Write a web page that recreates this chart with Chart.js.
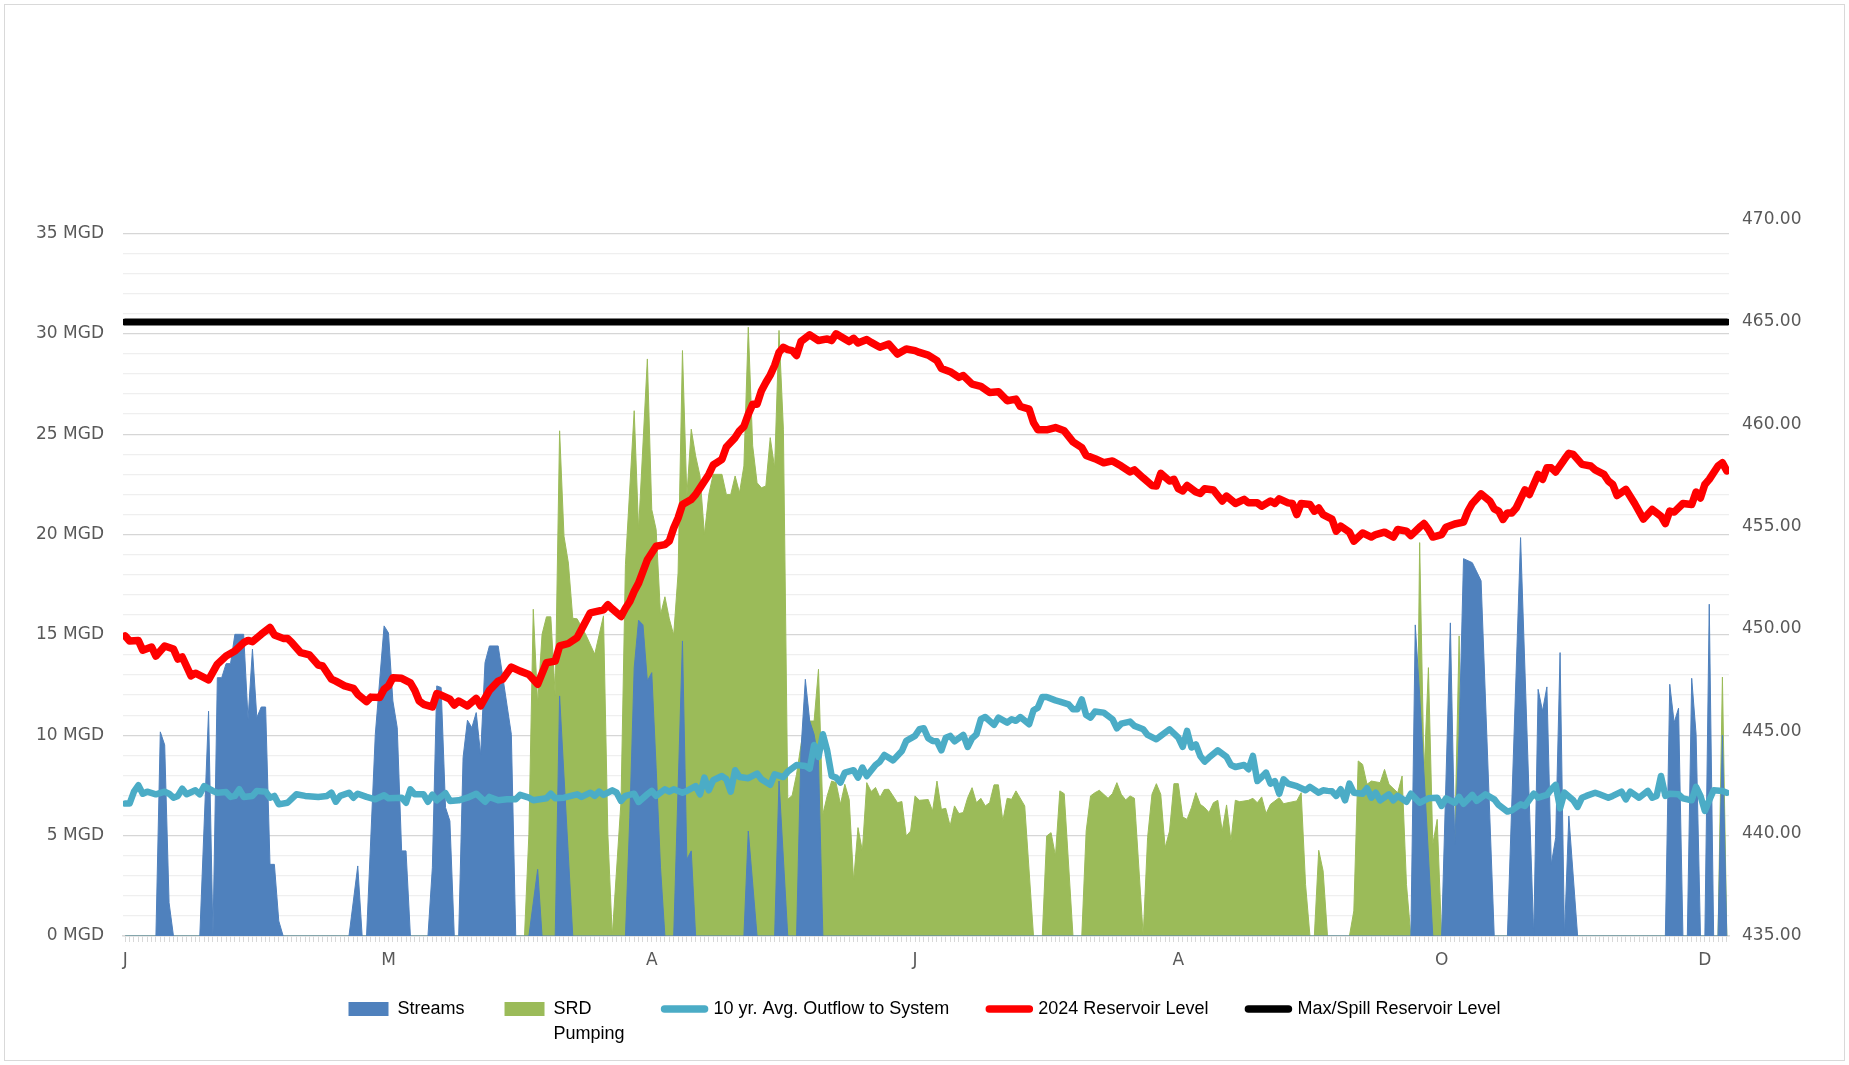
<!DOCTYPE html>
<html>
<head>
<meta charset="utf-8">
<script src="https://cdn.jsdelivr.net/npm/chart.js@4"></script>
<style>
  html, body { margin: 0; padding: 0; background: #fff; }
  canvas { display: block; }
</style>
</head>
<body>
<canvas id="graficoEmbalse" width="1849" height="1065"></canvas>
<script>
//* eje x: día del año (0 = 1 de enero de 2024), una etiqueta cada 60 días
const diasEtiqueta = [0, 60, 120, 180, 240, 300, 360];
const letrasMes = ['J', 'M', 'A', 'J', 'A', 'O', 'D'];
const ticksNivel = [435, 440, 445, 450, 455, 460, 465, 470];

//* Streams (MGD)
const diasArroyos = [
  0, 7, 8, 9, 10, 11, 17, 19, 20, 21,
  22, 23, 24, 25, 27, 28, 29, 30, 31, 32,
  33, 34, 35, 36, 51, 53, 54, 55, 57, 59,
  60, 61, 62, 63, 64, 65, 69, 70, 71, 72,
  73, 74, 75, 76, 77, 78, 79, 80, 81, 82,
  83, 85, 88, 89, 92, 94, 95, 98, 99, 102,
  114, 115, 116, 117, 118, 119, 120, 121, 122, 123,
  125, 127, 128, 129, 130, 141, 142, 144, 148, 149,
  151, 153, 154, 155, 156, 157, 158, 159, 293, 294,
  295, 296, 298, 300, 302, 303, 304, 305, 307, 309,
  312, 315, 318, 321, 322, 323, 324, 325, 326, 327,
  328, 329, 331, 351, 352, 353, 354, 355, 356, 357,
  358, 359, 360, 361, 362, 363, 364, 365
];
const arroyosMgd = [
  0, 0, 10.17, 9.52, 1.66, 0, 0, 11.2, 0, 12.87,
  12.87, 13.57, 13.57, 15.03, 15.03, 10.8, 14.29, 10.88, 11.41, 11.41,
  3.57, 3.57, 0.75, 0, 0, 3.49, 0, 0, 10.05, 15.45,
  15.1, 11.71, 10.38, 4.24, 4.24, 0, 0, 3.4, 12.46, 12.38,
  6.4, 5.73, 0, 0, 8.89, 10.75, 10.38, 11.13, 9.02, 13.62,
  14.45, 14.45, 10.05, 0, 0, 3.32, 0, 0, 11.96, 0,
  0, 5.9, 13.37, 15.73, 15.5, 12.71, 13.12, 8.39, 3.4, 0,
  0, 14.7, 3.82, 4.24, 0, 0, 5.23, 0, 0, 7.72,
  0, 0, 9.22, 12.79, 10.71, 10.05, 8.72, 0, 0, 15.5,
  12, 8.06, 0, 0, 15.6, 4.57, 10, 18.8, 18.6, 17.7,
  0, 0, 19.85, 0, 12.29, 11.21, 12.41, 3.57, 4.9, 14.12,
  0, 5.98, 0, 0, 12.54, 10.63, 11.35, 0, 0, 12.84,
  10.05, 0, 0, 16.53, 0, 0, 10, 0
];

//* SRD Pumping (MGD)
const diasBombeo = [
  0, 91, 92, 93, 94, 95, 96, 97, 98, 99,
  100, 101, 102, 103, 104, 105, 107, 109, 110, 111,
  113, 114, 116, 117, 119, 120, 121, 122, 123, 124,
  125, 126, 127, 128, 129, 130, 131, 132, 133, 134,
  136, 137, 138, 139, 140, 141, 142, 143, 144, 145,
  146, 147, 148, 149, 150, 151, 152, 153, 154, 155,
  156, 157, 158, 159, 160, 161, 162, 163, 164, 165,
  166, 167, 168, 169, 170, 171, 172, 173, 174, 176,
  177, 178, 179, 180, 181, 183, 184, 185, 186, 187,
  188, 189, 190, 191, 192, 193, 194, 195, 196, 197,
  198, 199, 200, 201, 202, 203, 205, 207, 209, 210,
  211, 212, 213, 214, 216, 218, 219, 220, 221, 222,
  223, 224, 225, 226, 227, 228, 229, 230, 232, 233,
  234, 235, 236, 237, 238, 239, 240, 241, 242, 243,
  244, 245, 246, 247, 248, 249, 250, 251, 252, 253,
  254, 256, 257, 258, 259, 260, 261, 263, 264, 265,
  267, 268, 269, 270, 271, 272, 273, 274, 279, 280,
  281, 282, 283, 284, 286, 287, 288, 290, 291, 292,
  293, 294, 295, 296, 297, 298, 299, 300, 302, 303,
  304, 305, 363, 364, 365
];
const bombeoMgd = [
  0, 0, 5.07, 16.28, 11.55, 15.03, 15.9, 15.9, 12, 25.17,
  19.92, 18.58, 15.83, 15.8, 15.4, 15.0, 14.04, 15.95, 5.07, 0,
  6.73, 18.5, 26.17, 20.25, 28.75, 21.25, 20.25, 16.0, 16.9, 15.8,
  15.0, 18.08, 29.17, 21.92, 25.25, 23.92, 22.92, 20.0, 22.0, 23.0,
  23.0, 22.0, 22.0, 22.92, 22.08, 23.42, 30.33, 24.42, 22.58, 22.33,
  22.42, 24.83, 23.33, 30.17, 25.25, 6.81, 7.0, 8.06, 9.5, 10.88,
  10.71, 10.71, 13.29, 6.06, 7.0, 7.72, 7.64, 6.56, 7.56, 6.8,
  2.74, 5.4, 4.24, 7.64, 7.2, 7.4, 6.9, 7.3, 7.31, 6.64,
  6.7, 4.98, 5.23, 6.98, 6.76, 6.8, 6.23, 7.72, 6.31, 6.36,
  5.48, 6.48, 6.1, 6.15, 6.89, 7.39, 6.64, 6.86, 6.48, 6.64,
  7.53, 7.53, 5.73, 6.86, 6.81, 7.23, 6.48, 0, 0, 4.98,
  5.15, 3.99, 7.23, 7.09, 0, 0, 5.23, 6.98, 7.14, 7.26,
  7.06, 6.86, 7.1, 7.64, 7.06, 6.78, 6.98, 6.86, 0, 4.9,
  7.06, 7.59, 7.06, 4.4, 5.23, 7.59, 7.59, 5.93, 5.81, 6.4,
  7.14, 6.56, 6.4, 6.15, 6.64, 6.76, 5.23, 6.53, 4.73, 6.76,
  6.69, 6.76, 6.86, 6.64, 6.93, 6.1, 6.56, 6.89, 6.59, 6.64,
  6.73, 7.14, 2.57, 0, 0, 4.27, 3.24, 0, 0, 1.25,
  8.72, 8.55, 7.56, 7.72, 7.64, 8.3, 7.56, 7.14, 7.97, 2.57,
  0, 0, 19.6, 8.06, 13.37, 4.57, 5.81, 0, 0, 4.73,
  14.95, 0, 0, 12.9, 0
];

//* 10 yr. Avg. Outflow to System (MGD)
const diasSalida = [
  0, 1, 2, 3, 4, 5, 7, 9, 10, 11,
  12, 13, 14, 16, 17, 18, 20, 21, 23, 24,
  25, 26, 27, 29, 30, 32, 33, 34, 35, 37,
  39, 41, 44, 46, 47, 48, 49, 51, 52, 53,
  55, 57, 59, 60, 63, 64, 65, 66, 68, 69,
  70, 71, 73, 74, 76, 78, 80, 82, 83, 85,
  87, 89, 90, 92, 93, 96, 97, 98, 100, 103,
  104, 106, 107, 108, 109, 111, 112, 113, 114, 116,
  117, 119, 120, 121, 123, 124, 125, 127, 128, 130,
  131, 132, 133, 134, 136, 137, 138, 139, 140, 142,
  144, 145, 147, 148, 150, 151, 153, 155, 156, 157,
  158, 159, 160, 161, 162, 163, 164, 166, 167, 168,
  169, 171, 172, 173, 175, 177, 178, 180, 181, 182,
  183, 184, 185, 186, 187, 188, 189, 191, 192, 193,
  194, 195, 196, 198, 199, 201, 202, 203, 204, 206,
  207, 208, 209, 210, 212, 213, 215, 216, 217, 218,
  219, 220, 221, 223, 225, 226, 227, 229, 230, 232,
  233, 235, 236, 238, 240, 241, 242, 243, 244, 245,
  246, 247, 249, 251, 252, 253, 255, 256, 257, 258,
  259, 260, 261, 262, 263, 264, 265, 267, 269, 270,
  272, 273, 274, 275, 276, 277, 278, 279, 280, 282,
  283, 284, 285, 286, 288, 289, 290, 292, 293, 295,
  297, 299, 300, 301, 303, 304, 305, 307, 308, 310,
  312, 313, 315, 316, 318, 319, 321, 322, 324, 325,
  326, 327, 328, 330, 331, 332, 333, 335, 336, 338,
  339, 341, 342, 343, 345, 347, 348, 349, 350, 351,
  352, 354, 355, 357, 358, 359, 360, 361, 362, 364,
  365
];
const salidaMgd = [
  6.6, 6.6, 7.19, 7.51, 7.09, 7.19, 7.06, 7.19, 7.09, 6.89,
  6.98, 7.34, 7.06, 7.26, 7.06, 7.47, 7.23, 7.14, 7.17, 6.93,
  6.98, 7.31, 6.93, 6.98, 7.23, 7.19, 6.89, 6.98, 6.56, 6.64,
  7.06, 6.98, 6.93, 6.98, 7.14, 6.69, 6.98, 7.14, 6.89, 7.09,
  6.93, 6.81, 7.01, 6.86, 6.89, 6.64, 7.31, 7.06, 7.06, 6.69,
  7.04, 6.76, 7.11, 6.73, 6.76, 6.89, 7.09, 6.69, 6.93, 6.76,
  6.81, 6.81, 7.03, 6.89, 6.76, 6.86, 7.09, 6.86, 6.89, 7.06,
  6.93, 7.14, 6.98, 7.19, 7.03, 7.26, 7.14, 6.73, 6.98, 7.09,
  6.68, 7.06, 7.23, 6.98, 7.31, 7.19, 7.31, 7.14, 7.23, 7.47,
  7.06, 7.89, 7.26, 7.76, 7.97, 7.81, 7.19, 8.26, 7.92, 7.86,
  8.09, 7.81, 7.53, 8.06, 7.92, 8.19, 8.52, 8.47, 8.34, 9.52,
  8.92, 10.05, 9.22, 7.97, 7.89, 7.64, 8.14, 8.26, 7.89, 8.39,
  7.97, 8.52, 8.69, 9.02, 8.75, 9.22, 9.72, 9.97, 10.3, 10.35,
  9.85, 9.72, 9.7, 9.25, 9.88, 9.97, 9.7, 10.02, 9.42, 9.85,
  10.05, 10.8, 10.91, 10.52, 10.88, 10.63, 10.8, 10.72, 10.91, 10.55,
  11.25, 11.38, 11.91, 11.91, 11.74, 11.68, 11.54, 11.3, 11.3, 11.79,
  11.01, 10.88, 11.18, 11.13, 10.8, 10.35, 10.58, 10.68, 10.47, 10.3,
  10.02, 9.8, 9.97, 10.3, 9.88, 9.42, 10.22, 9.39, 9.55, 8.97,
  8.69, 8.89, 9.25, 8.92, 8.52, 8.42, 8.52, 8.31, 8.97, 7.72,
  7.92, 8.14, 7.59, 7.72, 7.09, 7.81, 7.59, 7.47, 7.26, 7.43,
  7.14, 7.26, 7.23, 7.21, 6.98, 7.31, 6.76, 7.59, 7.14, 7.09,
  7.36, 6.89, 7.14, 6.76, 7.06, 6.76, 6.98, 6.69, 7.09, 6.64,
  6.86, 6.89, 6.48, 6.86, 6.64, 6.93, 6.59, 7.03, 6.73, 7.06,
  6.81, 6.53, 6.2, 6.26, 6.56, 6.48, 7.09, 6.89, 7.03, 7.31,
  7.53, 6.36, 7.14, 6.76, 6.43, 6.89, 6.98, 7.14, 7.06, 6.89,
  6.98, 7.19, 6.81, 7.19, 6.89, 7.23, 6.89, 6.98, 7.97, 6.98,
  7.09, 7.06, 6.86, 6.76, 7.43, 6.98, 6.23, 6.76, 7.26, 7.23,
  7.14
];

//* 2024 Reservoir Level (pies)
const diasNivel = [
  0, 1, 3, 4, 6, 7, 9, 11, 12, 13,
  15, 16, 19, 21, 23, 25, 27, 28, 29, 31,
  33, 34, 36, 37, 38, 40, 42, 44, 45, 47,
  48, 50, 52, 53, 55, 56, 58, 59, 60, 61,
  63, 65, 66, 67, 68, 70, 71, 72, 74, 75,
  76, 78, 80, 81, 83, 85, 86, 88, 90, 92,
  94, 96, 98, 99, 101, 103, 104, 106, 109, 110,
  111, 113, 114, 115, 116, 117, 119, 121, 123, 124,
  125, 126, 127, 129, 130, 131, 133, 134, 136, 137,
  139, 140, 141, 142, 143, 144, 145, 146, 147, 148,
  149, 150, 151, 152, 153, 154, 156, 158, 160, 161,
  162, 164, 165, 166, 167, 169, 170, 172, 174, 176,
  178, 180, 181, 183, 185, 186, 188, 190, 191, 193,
  195, 197, 199, 201, 203, 204, 206, 207, 208, 210,
  212, 214, 216, 218, 219, 221, 223, 225, 227, 229,
  230, 232, 234, 235, 236, 238, 239, 240, 241, 242,
  244, 245, 246, 248, 250, 251, 253, 255, 256, 258,
  259, 261, 262, 263, 265, 266, 267, 268, 270, 271,
  272, 273, 275, 276, 277, 279, 280, 282, 284, 285,
  287, 289, 290, 292, 293, 295, 296, 297, 298, 300,
  301, 303, 305, 306, 307, 309, 311, 312, 313, 314,
  315, 316, 317, 319, 320, 322, 323, 324, 325, 326,
  328, 329, 330, 332, 334, 335, 337, 338, 339, 340,
  342, 344, 346, 348, 350, 351, 352, 353, 355, 357,
  358, 359, 360, 361, 363, 364, 365
];
const nivelPies = [
  449.66, 449.41, 449.44, 448.96, 449.12, 448.68, 449.17, 449.02, 448.53, 448.63,
  447.71, 447.84, 447.51, 448.28, 448.68, 448.92, 449.33, 449.44, 449.38, 449.74,
  450.07, 449.71, 449.54, 449.54, 449.33, 448.84, 448.73, 448.24, 448.19, 447.55,
  447.45, 447.22, 447.10, 446.81, 446.45, 446.67, 446.65, 447.06, 447.22, 447.62,
  447.59, 447.37, 447.00, 446.48, 446.32, 446.19, 446.84, 446.77, 446.57, 446.28,
  446.48, 446.24, 446.61, 446.24, 447.00, 447.45, 447.54, 448.14, 447.94, 447.78,
  447.30, 448.35, 448.43, 449.17, 449.29, 449.58, 449.98, 450.79, 450.93, 451.18,
  450.98, 450.61, 451.01, 451.34, 451.84, 452.24, 453.38, 454.04, 454.12, 454.29,
  454.93, 455.42, 456.08, 456.33, 456.57, 456.89, 457.55, 458.01, 458.29, 458.89,
  459.35, 459.68, 459.89, 460.49, 460.98, 460.98, 461.64, 462.04, 462.40, 462.87,
  463.51, 463.76, 463.65, 463.60, 463.36, 464.04, 464.37, 464.09, 464.17, 464.09,
  464.42, 464.17, 464.04, 464.20, 463.97, 464.14, 464.00, 463.76, 463.92, 463.43,
  463.68, 463.60, 463.51, 463.38, 463.11, 462.73, 462.57, 462.29, 462.38, 461.96,
  461.85, 461.55, 461.59, 461.15, 461.23, 460.87, 460.74, 460.08, 459.73, 459.73,
  459.84, 459.68, 459.14, 458.86, 458.48, 458.32, 458.12, 458.21, 457.96, 457.67,
  457.77, 457.38, 457.01, 456.98, 457.60, 457.23, 457.31, 456.85, 456.74, 457.01,
  456.69, 456.62, 456.85, 456.79, 456.25, 456.49, 456.13, 456.33, 456.16, 456.16,
  456.00, 456.25, 456.13, 456.36, 456.16, 456.13, 455.59, 456.13, 456.08, 455.76,
  455.91, 455.59, 455.37, 454.78, 455.02, 454.73, 454.29, 454.69, 454.49, 454.61,
  454.73, 454.49, 454.86, 454.78, 454.56, 454.97, 455.15, 454.86, 454.49, 454.61,
  454.97, 455.13, 455.22, 455.76, 456.13, 456.60, 456.25, 455.87, 455.76, 455.35,
  455.67, 455.67, 455.91, 456.79, 456.57, 457.55, 457.31, 457.87, 457.87, 457.67,
  458.29, 458.58, 458.53, 458.04, 457.96, 457.77, 457.55, 457.23, 457.06, 456.52,
  456.82, 456.13, 455.37, 455.84, 455.51, 455.15, 455.76, 455.71, 456.13, 456.08,
  456.69, 456.40, 457.06, 457.31, 457.96, 458.12, 457.72
];

//* Max/Spill Reservoir Level (pies)
const diasVertedero = [0, 365];
const vertederoPies = [465, 465];

//* texto de la leyenda; "SRD Pumping" va en dos líneas
const textoBombeo = ['SRD', 'Pumping'];
textoBombeo.toString = () => 'Pumping'; //* el ancho del item se mide con la línea más larga
const textosLeyenda = ['Streams', textoBombeo, '10 yr. Avg. Outflow to System', '2024 Reservoir Level', 'Max/Spill Reservoir Level'];

const puntos = (dias, valores) => dias.map((d, i) => ({ x: d, y: valores[i] }));

const fuenteEjes = { family: "'DejaVu Sans', Verdana, sans-serif", size: 17 };
const grisTexto = '#595959';

//* marco gris alrededor y leyenda un poco más arriba (con sitio para la segunda línea)
const marco = {
    id: 'marco',
    beforeDraw(chart) {
        const c = chart.ctx;
        c.save();
        c.fillStyle = '#ffffff';
        c.fillRect(0, 0, chart.width, chart.height);
        c.strokeStyle = '#d9d9d9';
        c.lineWidth = 1;
        c.strokeRect(4.5, 4.5, chart.width - 9, chart.height - 9);
        c.restore();
    },
    afterLayout(chart) {
        if (chart.legend) {
            chart.legend.top = 960;
            chart.legend.bottom = chart.height - 8;
        }
    }
};

function crearGrafico(idCanvas) {
    const lienzo = document.getElementById(idCanvas).getContext('2d');

    new Chart(lienzo, {
        type: 'line',
        data: {
            datasets: [
                {
                    label: 'Streams',
                    data: puntos(diasArroyos, arroyosMgd),
                    yAxisID: 'y',
                    fill: 'origin',
                    backgroundColor: '#4f81bd',
                    borderColor: '#4f81bd',
                    borderWidth: 1,
                    pointRadius: 0,
                    order: 4
                },
                {
                    label: 'SRD Pumping',
                    data: puntos(diasBombeo, bombeoMgd),
                    yAxisID: 'y',
                    fill: 'origin',
                    backgroundColor: '#9bbb59',
                    borderColor: '#9bbb59',
                    borderWidth: 1,
                    pointRadius: 0,
                    order: 5
                },
                {
                    label: '10 yr. Avg. Outflow to System',
                    data: puntos(diasSalida, salidaMgd),
                    yAxisID: 'y',
                    fill: false,
                    borderColor: '#4bacc6',
                    borderWidth: 6.5,
                    borderJoinStyle: 'round',
                    borderCapStyle: 'round',
                    pointRadius: 0,
                    order: 3
                },
                {
                    label: '2024 Reservoir Level',
                    data: puntos(diasNivel, nivelPies),
                    yAxisID: 'y2',
                    fill: false,
                    borderColor: '#ff0000',
                    borderWidth: 7.5,
                    borderJoinStyle: 'round',
                    borderCapStyle: 'round',
                    pointRadius: 0,
                    order: 2
                },
                {
                    label: 'Max/Spill Reservoir Level',
                    data: puntos(diasVertedero, vertederoPies),
                    yAxisID: 'y2',
                    fill: false,
                    borderColor: '#000000',
                    borderWidth: 7,
                    borderCapStyle: 'round',
                    pointRadius: 0,
                    order: 1
                }
            ]
        },
        //* opciones para que se vea como el original
        options: {
            responsive: false,
            animation: false,
            layout: { padding: { top: 233.5, left: 0, right: 0, bottom: 25 } },
            plugins: {
                tooltip: { enabled: false },
                legend: {
                    position: 'bottom',
                    labels: {
                        usePointStyle: true,
                        pointStyleWidth: 40,
                        boxHeight: 14,
                        padding: 40,
                        color: grisTexto,
                        font: { family: "'Liberation Sans', Arial, sans-serif", size: 18, lineHeight: 1.4 },
                        generateLabels: chart => chart.data.datasets.map((ds, i) => {
                            const esArea = ds.fill === 'origin';
                            return {
                                text: textosLeyenda[i],
                                fillStyle: esArea ? ds.backgroundColor : ds.borderColor,
                                strokeStyle: ds.borderColor,
                                lineWidth: esArea ? 0 : 7.5,
                                lineCap: 'round',
                                pointStyle: esArea ? 'rect' : 'line',
                                hidden: false,
                                datasetIndex: i
                            };
                        }),
                        sort: (a, b) => a.datasetIndex - b.datasetIndex
                    }
                }
            },
            scales: {
                x: {
                    type: 'linear',
                    min: -0.5,
                    max: 365.5,
                    afterBuildTicks: eje => {
                        const marcas = [];
                        for (let d = 0; d <= 365; d++) marcas.push({ value: d });
                        eje.ticks = marcas;
                    },
                    afterFit: eje => { eje.height = 36; },
                    ticks: {
                        autoSkip: false,
                        maxRotation: 0,
                        padding: 8,
                        color: grisTexto,
                        font: fuenteEjes,
                        callback: v => {
                            const i = diasEtiqueta.indexOf(v);
                            return i >= 0 ? letrasMes[i] : '';
                        }
                    },
                    grid: { drawOnChartArea: false, drawTicks: true, tickLength: 6, color: '#d9d9d9' },
                    border: { color: '#d9d9d9', width: 1.5 }
                },
                y: {
                    position: 'left',
                    min: 0,
                    max: 35,
                    afterBuildTicks: eje => {
                        const marcas = [];
                        for (let v = 0; v <= 35; v++) marcas.push({ value: v });
                        eje.ticks = marcas;
                    },
                    afterFit: eje => { eje.width = 123; },
                    ticks: {
                        autoSkip: false,
                        padding: 19,
                        color: grisTexto,
                        font: fuenteEjes,
                        callback: v => (v % 5 === 0 ? v + ' MGD' : '')
                    },
                    grid: {
                        drawTicks: false,
                        lineWidth: 1.3,
                        color: ctx => (ctx.tick && ctx.tick.value % 5 === 0 ? '#d6d6d6' : '#efefef')
                    },
                    border: { display: false }
                },
                y2: {
                    position: 'right',
                    //* el eje derecho del original es algo más alto que el área del gráfico
                    min: 435,
                    max: 469.32,
                    afterBuildTicks: eje => { eje.ticks = ticksNivel.map(v => ({ value: v })); },
                    afterFit: eje => { eje.width = 120; },
                    ticks: {
                        autoSkip: false,
                        padding: 13,
                        color: grisTexto,
                        font: fuenteEjes,
                        callback: v => Number(v).toFixed(2)
                    },
                    grid: { display: false, drawTicks: false },
                    border: { display: false }
                }
            }
        },
        plugins: [marco]
    });
}

crearGrafico('graficoEmbalse');
</script>
</body>
</html>
